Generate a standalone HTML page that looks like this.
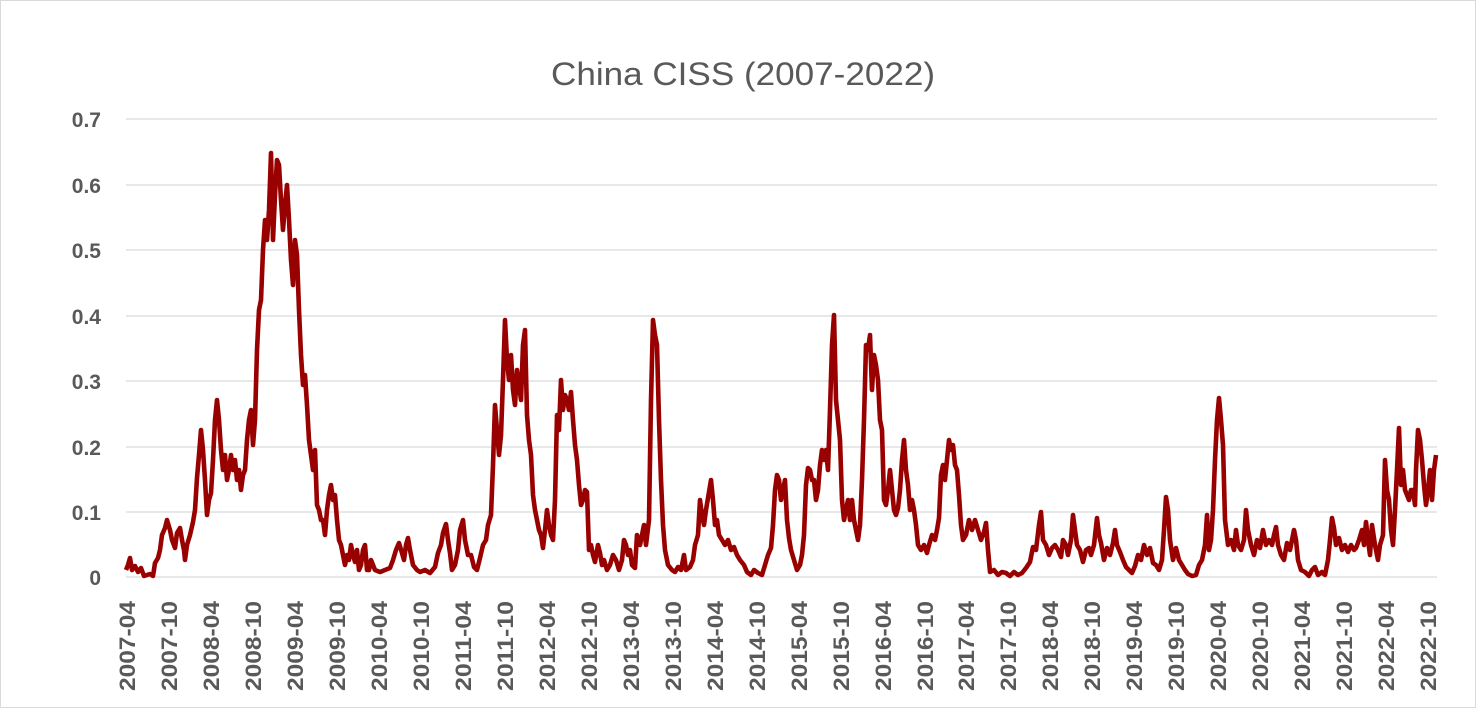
<!DOCTYPE html>
<html><head><meta charset="utf-8"><style>
body{margin:0;background:#fff}
svg text{font-family:"Liberation Sans",sans-serif;fill:#595959}
</style></head><body>
<svg width="1477" height="710" xmlns="http://www.w3.org/2000/svg">
<rect x="0.5" y="0.5" width="1475" height="707" fill="#fff" stroke="#d9d9d9"/>
<text x="551" y="85" font-size="32" textLength="384" lengthAdjust="spacingAndGlyphs">China CISS (2007-2022)</text>
<g stroke="#d9d9d9" stroke-width="1.3">
<line x1="126" x2="1437" y1="119" y2="119"/><line x1="126" x2="1437" y1="185" y2="185"/>
<line x1="126" x2="1437" y1="250" y2="250"/><line x1="126" x2="1437" y1="316" y2="316"/>
<line x1="126" x2="1437" y1="381" y2="381"/><line x1="126" x2="1437" y1="447" y2="447"/>
<line x1="126" x2="1437" y1="512" y2="512"/><line x1="126" x2="1437" y1="577" y2="577"/>
</g>
<g font-size="21" font-weight="bold" text-anchor="end">
<text x="101" y="127">0.7</text><text x="101" y="193">0.6</text><text x="101" y="258">0.5</text>
<text x="101" y="324">0.4</text><text x="101" y="389">0.3</text><text x="101" y="455">0.2</text>
<text x="101" y="520">0.1</text><text x="101" y="585">0</text>
</g>
<polyline fill="none" stroke="#990000" stroke-width="4.6" stroke-linejoin="round" points="126,570 128,565 130,558 132,570 135,566 138,572 141,568 144,576 150,574 153,576 155,563 158,558 160,550 162,535 165,528 167,520 170,530 172,540 175,548 177,533 180,528 182,540 184,550 185,560 187,545 190,535 193,522 195,510 197,478 199,455 201,430 203,450 205,480 207,515 209,500 211,493 213,460 215,420 217,400 219,420 221,450 223,470 225,455 227,480 229,470 231,455 233,470 235,460 237,480 239,470 241,490 243,475 245,470 247,440 249,420 251,410 253,445 255,420 257,350 259,310 261,300 263,250 265,220 267,240 269,210 271,153 273,240 275,195 277,160 279,165 281,200 283,230 285,205 287,185 289,220 291,260 293,285 295,240 297,255 299,310 301,355 303,385 305,375 307,405 309,440 311,455 313,470 315,450 317,505 319,510 321,520 323,520 325,535 327,510 329,495 331,485 333,500 335,495 337,520 339,540 341,545 343,555 345,565 347,555 349,560 351,545 353,555 355,562 357,550 359,570 361,565 363,550 365,545 367,570 369,570 371,560 373,565 375,570 380,572 385,570 390,568 393,560 396,550 399,543 402,553 404,560 406,545 408,538 410,550 413,565 417,570 420,572 425,570 430,573 435,567 438,553 441,545 443,533 446,524 448,540 450,553 452,570 455,565 458,550 460,530 463,520 465,540 468,555 471,555 474,567 477,570 480,558 483,545 486,540 488,525 491,515 493,465 495,405 497,430 499,455 501,435 503,380 505,320 507,360 509,380 511,355 513,390 515,405 517,370 519,385 521,400 523,345 525,330 527,415 529,440 531,455 533,495 535,510 537,520 539,530 541,535 543,548 545,530 547,510 549,525 551,535 553,540 555,500 557,415 559,430 561,380 563,410 565,395 567,400 569,410 571,392 573,420 575,445 577,460 579,485 581,505 583,500 585,490 587,492 589,550 591,545 593,555 595,562 598,545 600,553 602,565 604,560 607,570 610,565 613,555 616,560 619,570 622,560 624,540 626,545 628,555 630,550 632,565 635,568 637,535 640,545 642,535 644,525 646,545 649,520 651,400 653,320 655,335 657,345 659,420 661,480 663,525 665,550 668,565 672,570 675,572 678,567 681,570 684,555 686,570 690,567 693,560 695,545 698,535 700,500 702,515 704,525 706,510 709,492 711,480 713,500 715,525 717,520 719,535 722,540 725,545 728,540 731,550 734,547 737,555 740,560 744,565 747,572 751,575 754,570 758,573 762,575 765,565 768,555 771,548 773,525 775,490 777,475 779,480 781,500 783,490 785,480 787,520 789,538 791,550 794,560 797,570 800,565 802,555 804,535 806,485 808,468 810,470 812,480 814,480 816,500 818,490 820,465 822,450 824,460 826,450 828,470 830,410 832,345 834,315 836,400 838,420 840,440 842,500 844,520 846,510 848,500 850,520 852,500 854,520 856,530 858,540 860,525 862,480 864,420 866,345 868,350 870,335 872,390 874,355 876,365 878,380 880,420 882,430 884,500 886,505 888,490 890,470 892,490 894,510 896,515 898,508 900,490 902,460 904,440 906,470 908,485 910,510 912,500 914,510 916,525 918,545 921,550 924,545 927,553 929,545 932,535 935,540 937,530 939,518 941,475 943,465 945,480 947,460 949,440 951,450 953,445 955,465 957,470 959,495 961,525 963,540 966,535 969,520 972,530 975,520 978,530 981,540 984,532 986,523 988,550 990,572 994,570 998,575 1002,572 1006,573 1010,576 1014,572 1018,575 1022,573 1026,568 1030,562 1033,547 1036,550 1039,525 1041,512 1043,540 1046,545 1049,555 1052,548 1055,545 1058,550 1061,557 1063,540 1066,545 1068,555 1071,540 1073,515 1075,530 1077,545 1080,550 1083,562 1086,550 1089,548 1091,555 1094,545 1097,518 1099,535 1101,543 1104,560 1107,548 1110,555 1113,543 1115,530 1117,545 1120,552 1123,560 1126,567 1129,570 1132,573 1135,566 1138,555 1141,560 1144,545 1147,555 1150,548 1153,563 1156,565 1159,570 1162,560 1164,530 1166,497 1168,510 1170,540 1173,560 1176,548 1179,560 1182,565 1185,570 1188,574 1192,576 1196,575 1199,565 1202,560 1205,545 1207,515 1209,550 1211,540 1213,510 1215,460 1217,420 1219,398 1221,420 1223,445 1225,520 1228,545 1231,540 1234,550 1236,530 1238,545 1241,550 1244,540 1246,510 1248,530 1251,545 1254,555 1257,540 1260,548 1263,530 1266,545 1269,540 1272,545 1274,535 1276,527 1278,545 1281,555 1284,560 1287,543 1290,550 1292,540 1294,530 1296,540 1298,560 1301,570 1305,572 1309,576 1312,570 1315,567 1318,575 1322,572 1325,575 1328,560 1330,540 1332,518 1334,528 1336,545 1339,538 1342,550 1345,545 1348,552 1351,545 1354,550 1356,548 1359,540 1362,530 1364,545 1366,522 1368,540 1370,555 1372,525 1375,545 1378,560 1380,545 1383,535 1385,460 1387,490 1389,500 1391,530 1393,545 1395,510 1397,470 1399,428 1401,485 1403,470 1405,490 1407,495 1409,500 1411,490 1413,490 1415,505 1416,470 1418,430 1420,440 1422,460 1424,485 1426,505 1428,490 1430,470 1432,500 1434,470 1436,455"/>
<g font-size="22" font-weight="bold" text-anchor="end">
<text transform="translate(135,601) rotate(-90)" textLength="90" lengthAdjust="spacingAndGlyphs">2007-04</text>
<text transform="translate(177,601) rotate(-90)" textLength="90" lengthAdjust="spacingAndGlyphs">2007-10</text>
<text transform="translate(219,601) rotate(-90)" textLength="90" lengthAdjust="spacingAndGlyphs">2008-04</text>
<text transform="translate(261,601) rotate(-90)" textLength="90" lengthAdjust="spacingAndGlyphs">2008-10</text>
<text transform="translate(303,601) rotate(-90)" textLength="90" lengthAdjust="spacingAndGlyphs">2009-04</text>
<text transform="translate(345,601) rotate(-90)" textLength="90" lengthAdjust="spacingAndGlyphs">2009-10</text>
<text transform="translate(387,601) rotate(-90)" textLength="90" lengthAdjust="spacingAndGlyphs">2010-04</text>
<text transform="translate(429,601) rotate(-90)" textLength="90" lengthAdjust="spacingAndGlyphs">2010-10</text>
<text transform="translate(471,601) rotate(-90)" textLength="90" lengthAdjust="spacingAndGlyphs">2011-04</text>
<text transform="translate(513,601) rotate(-90)" textLength="90" lengthAdjust="spacingAndGlyphs">2011-10</text>
<text transform="translate(555,601) rotate(-90)" textLength="90" lengthAdjust="spacingAndGlyphs">2012-04</text>
<text transform="translate(597,601) rotate(-90)" textLength="90" lengthAdjust="spacingAndGlyphs">2012-10</text>
<text transform="translate(639,601) rotate(-90)" textLength="90" lengthAdjust="spacingAndGlyphs">2013-04</text>
<text transform="translate(681,601) rotate(-90)" textLength="90" lengthAdjust="spacingAndGlyphs">2013-10</text>
<text transform="translate(723,601) rotate(-90)" textLength="90" lengthAdjust="spacingAndGlyphs">2014-04</text>
<text transform="translate(765,601) rotate(-90)" textLength="90" lengthAdjust="spacingAndGlyphs">2014-10</text>
<text transform="translate(807,601) rotate(-90)" textLength="90" lengthAdjust="spacingAndGlyphs">2015-04</text>
<text transform="translate(849,601) rotate(-90)" textLength="90" lengthAdjust="spacingAndGlyphs">2015-10</text>
<text transform="translate(891,601) rotate(-90)" textLength="90" lengthAdjust="spacingAndGlyphs">2016-04</text>
<text transform="translate(933,601) rotate(-90)" textLength="90" lengthAdjust="spacingAndGlyphs">2016-10</text>
<text transform="translate(974,601) rotate(-90)" textLength="90" lengthAdjust="spacingAndGlyphs">2017-04</text>
<text transform="translate(1016,601) rotate(-90)" textLength="90" lengthAdjust="spacingAndGlyphs">2017-10</text>
<text transform="translate(1058,601) rotate(-90)" textLength="90" lengthAdjust="spacingAndGlyphs">2018-04</text>
<text transform="translate(1100,601) rotate(-90)" textLength="90" lengthAdjust="spacingAndGlyphs">2018-10</text>
<text transform="translate(1142,601) rotate(-90)" textLength="90" lengthAdjust="spacingAndGlyphs">2019-04</text>
<text transform="translate(1184,601) rotate(-90)" textLength="90" lengthAdjust="spacingAndGlyphs">2019-10</text>
<text transform="translate(1226,601) rotate(-90)" textLength="90" lengthAdjust="spacingAndGlyphs">2020-04</text>
<text transform="translate(1268,601) rotate(-90)" textLength="90" lengthAdjust="spacingAndGlyphs">2020-10</text>
<text transform="translate(1310,601) rotate(-90)" textLength="90" lengthAdjust="spacingAndGlyphs">2021-04</text>
<text transform="translate(1352,601) rotate(-90)" textLength="90" lengthAdjust="spacingAndGlyphs">2021-10</text>
<text transform="translate(1394,601) rotate(-90)" textLength="90" lengthAdjust="spacingAndGlyphs">2022-04</text>
<text transform="translate(1436,601) rotate(-90)" textLength="90" lengthAdjust="spacingAndGlyphs">2022-10</text>
</g>
</svg>
</body></html>
